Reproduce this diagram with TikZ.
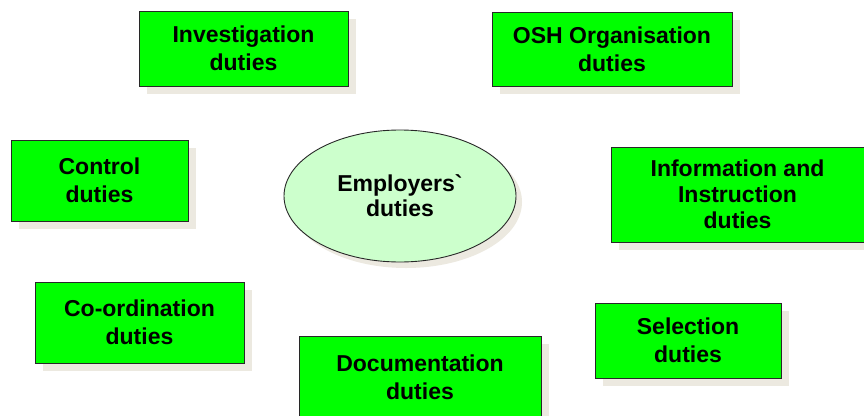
\documentclass[tikz,border=0pt]{standalone}
\usepackage{fontspec}
\setmainfont{Liberation Sans}
\usetikzlibrary{shapes.geometric,shadows}
\definecolor{boxgreen}{RGB}{0,255,0}
\definecolor{ellgreen}{RGB}{204,255,204}
\definecolor{shadowcol}{RGB}{236,233,224}
\definecolor{edgecol}{RGB}{40,40,40}
\tikzset{
  duty/.style={draw=edgecol, line width=0.9pt, fill=boxgreen, align=center,
    inner sep=0pt, font=\bfseries\fontsize{23}{28}\selectfont,
    drop shadow={shadow xshift=8pt, shadow yshift=-8pt, fill=shadowcol, opacity=1}},
  centre/.style={ellipse, draw=edgecol, line width=0.9pt, fill=ellgreen, align=center,
    inner sep=0pt, font=\bfseries\fontsize{23}{25}\selectfont,
    drop shadow={shadow xshift=6pt, shadow yshift=-6pt, fill=shadowcol, opacity=1}}
}
\begin{document}
\begin{tikzpicture}[x=1pt,y=-1pt]
\useasboundingbox[fill=white] (0,0) rectangle (864,415);
\node[duty, minimum width=209pt, minimum height=75pt] (inv) at (243.5,48.5) {Investigation\\duties};
\node[duty, minimum width=240pt, minimum height=74pt] (osh) at (612,49) {OSH Organisation\\duties};
\node[duty, minimum width=177pt, minimum height=81pt] (ctrl) at (99.5,180.5) {Control\\duties};
\node[centre, minimum width=232pt, minimum height=132pt] (emp) at (400,196) {Employers\textasciigrave\\duties};
\node[duty, minimum width=253pt, minimum height=95pt, font=\bfseries\fontsize{23}{26}\selectfont] (info) at (737.5,194.5) {Information and\\Instruction\\duties};
\node[duty, minimum width=209pt, minimum height=81pt] (coord) at (139.5,322.5) {Co-ordination\\duties};
\node[duty, minimum width=186pt, minimum height=75pt] (sel) at (688,340.5) {Selection\\duties};
\node[duty, minimum width=242pt, minimum height=82pt] (doc) at (420,377) {Documentation\\duties};
\end{tikzpicture}
\end{document}
